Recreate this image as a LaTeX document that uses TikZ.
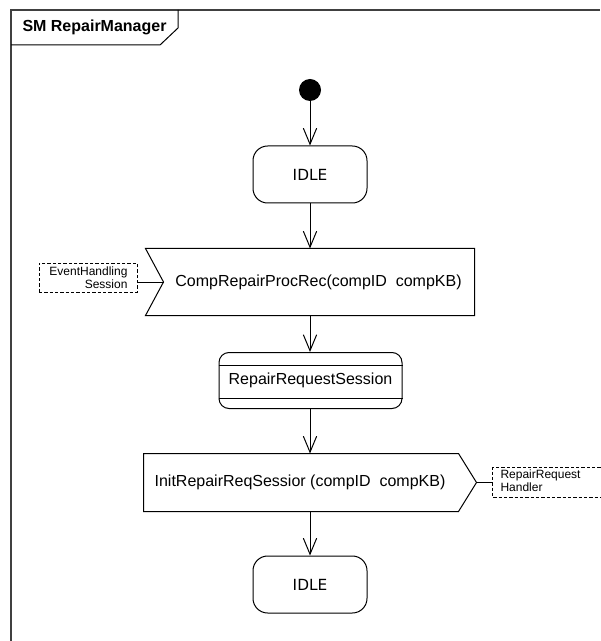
\documentclass[tikz,border=0pt]{standalone}
\usepackage{fontspec}
\setmainfont{Liberation Sans}
\newfontfamily\statefont{DejaVu Sans}
\usetikzlibrary{arrows.meta}
\begin{document}
\begin{tikzpicture}[x=0.75pt,y=-0.75pt,line width=0.75pt,
  framestyle/.style={draw=black!75,line width=1.2pt},
  flow/.style={draw,-{Straight Barb[length=12pt,width=10pt]}},
  statebox/.style={draw,rounded corners=11pt,minimum width=85.5pt,minimum height=42.75pt,
    inner sep=0pt,font=\statefont\fontsize{11.5}{13}\selectfont},
  sigbox/.style={minimum width=#1,minimum height=49.5pt,inner sep=0pt},
  sigtext/.style={inner sep=0pt,font=\fontsize{12}{14}\selectfont},
  notetext/.style={inner sep=0pt,font=\fontsize{9}{10}\selectfont},
  notebox/.style={draw,dashed,dash pattern=on 2.5pt off 1.5pt,line width=0.6pt}
]
\useasboundingbox (0,0) rectangle (600,641);

% diagram frame and its name tag
\draw[framestyle] (600,10) -- (11,10) -- (11,641);
\draw (11,45) -- (160,45) -- (178,28) -- (178,10);
\node[anchor=west,inner sep=0pt,font=\bfseries\fontsize{12}{14}\selectfont] (title) at (22,27.5) {SM RepairManager};

% initial pseudo state
\node[circle,fill=black,minimum size=16.5pt,inner sep=0pt] (init) at (310,90) {};

% first idle state
\node[statebox] (idle1) at (310,174.5) {IDLE};

% signal receipt
\node[sigbox=246pt] (rec) at (310,282) {};
\coordinate (recnotch) at ([xshift=13.5pt]rec.west);
\draw (rec.north west) -- (rec.north east) -- (rec.south east) -- (rec.south west)
  -- (recnotch) -- cycle;
\node[sigtext] (rectext) at ([xshift=6.4pt]rec.center) {CompRepairProcRec(compID~~compKB)};

% sender of the received signal
\node[notetext,align=right,anchor=east] (note1text) at (128,278) {EventHandling\\Session};
\node[notebox,minimum width=73.5pt,minimum height=21.75pt,inner sep=0pt] (note1) at (88,277.5) {};
\draw (note1.east |- recnotch) -- (recnotch);

% composite session state
\node[draw,rounded corners=7.5pt,minimum width=137.25pt,minimum height=42pt,inner sep=0pt,
  font=\fontsize{12}{14}\selectfont] (rrs) at (310.5,380.5) {RepairRequestSession};
\draw ([yshift=-9.75pt]rrs.north west) -- ([yshift=-9.75pt]rrs.north east);
\draw ([yshift=8.25pt]rrs.south west) -- ([yshift=8.25pt]rrs.south east);

% signal sending
\node[sigbox=249pt,minimum height=42.75pt] (send) at (310,482.5) {};
\coordinate (sendtip) at (send.east);
\draw (send.north west) -- ([xshift=-13.5pt]send.north east) -- (sendtip)
  -- ([xshift=-13.5pt]send.south east) -- (send.south west) -- cycle;
\node[sigtext] (sendtext) at ([xshift=-7.5pt]send.center) {InitRepairReqSessior (compID~~compKB)};

% receiver of the sent signal
\node[minimum width=80.25pt,minimum height=21.75pt,inner sep=0pt] (note2) at (546.5,482.5) {};
\draw[notebox] (note2.north east) -- (note2.north west) -- (note2.south west) -- (note2.south east);
\node[notetext,align=left,anchor=west] (note2text) at (500,481) {RepairRequest\\Handler};
\draw (sendtip) -- (note2.west);

% final idle state
\node[statebox] (idle2) at (310,584.5) {IDLE};

% transitions
\draw[flow] (init) -- (idle1);
\draw[flow] (idle1) -- (rec);
\draw[flow] (rec) -- (rrs.north -| rec);
\draw[flow] (rrs.south -| rec) -- (send);
\draw[flow] (send) -- (idle2);
\end{tikzpicture}
\end{document}
